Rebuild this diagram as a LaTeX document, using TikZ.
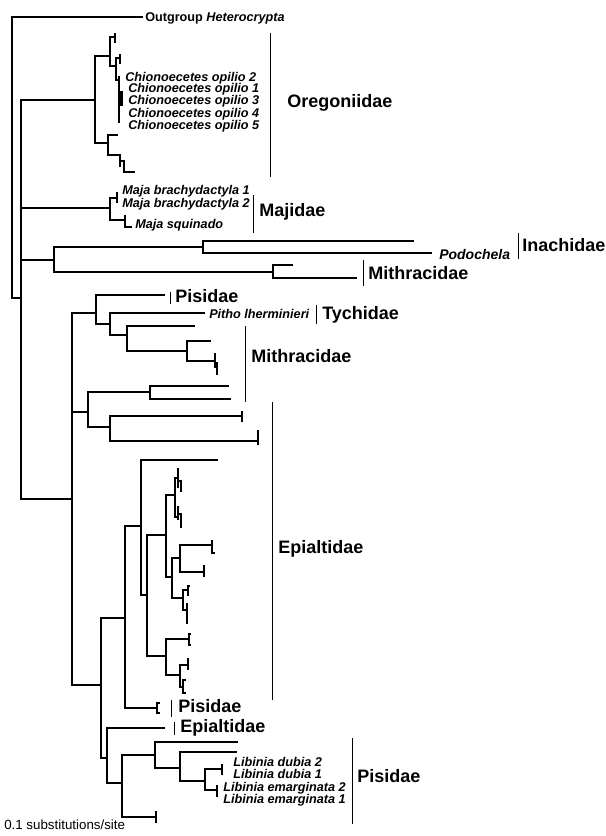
\documentclass[tikz,border=0pt]{standalone}
\usepackage{fontspec}
\setmainfont{Liberation Sans}
\begin{document}
\begin{tikzpicture}[x=0.75pt,y=-0.75pt,
  tree/.style={line width=2.1pt,line join=miter,line cap=butt},
  thick bar/.style={line width=3pt},
  brk/.style={line width=0.75pt},
  fam/.style={anchor=west,inner sep=0pt,text height=0.72em,text depth=0pt,font=\fontsize{13.5}{14}\selectfont\bfseries},
  sp/.style={anchor=west,inner sep=0pt,text height=0.72em,text depth=0pt,font=\fontsize{9.5}{10}\selectfont\bfseries\itshape},
  ]
\useasboundingbox (0,0) rectangle (606,836);
\fill[white] (0,0) rectangle (606,836);

% root
\draw[tree] (143,17) -- (12,17) -- (12,298) -- (21,298);
\node[sp] (outg) at (145,17) {\upshape Outgroup \itshape Heterocrypta};
\draw[tree] (21,99) -- (21,500);
\draw[tree] (21,100) -- (95,100);
\draw[tree] (21,208) -- (110,208);
\draw[tree] (21,260) -- (54,260);
\draw[tree] (21,499) -- (72,499);

% Oregoniidae
\draw[tree] (110,56) -- (95,56) -- (95,143) -- (108,143);
\draw[tree] (115,37) -- (110,37) -- (110,66) -- (116,66);
\draw[tree] (115,33) -- (115,43);
\draw[tree] (120,58) -- (116,58) -- (116,80) -- (119,80);
\draw[tree] (120,54) -- (120,64);
\draw[tree] (119,76) -- (119,123);
\draw[thick bar] (121,91) -- (121,106);
\draw[tree] (118,135) -- (108,135) -- (108,155) -- (120,155) -- (120,167);
\draw[tree] (120,161) -- (124,161) -- (124,172) -- (135,172);
\node[sp] (co2) at (125,77) {Chionoecetes opilio 2};
\node[sp] (co1) at (128,88) {Chionoecetes opilio 1};
\node[sp] (co3) at (128,100) {Chionoecetes opilio 3};
\node[sp] (co4) at (128,113) {Chionoecetes opilio 4};
\node[sp] (co5) at (128,125) {Chionoecetes opilio 5};
\draw[brk] (270,33) -- (270,177);
\node[fam] (oreg) at (287,103) {Oregoniidae};

% Majidae
\draw[tree] (117,198) -- (110,198) -- (110,220) -- (125,220);
\draw[tree] (117,192) -- (117,203);
\draw[tree] (125,215) -- (125,227) -- (132,227);
\node[sp] (mb1) at (122,190) {Maja brachydactyla 1};
\node[sp] (mb2) at (122,203) {Maja brachydactyla 2};
\node[sp] (msq) at (135,224) {Maja squinado};
\draw[brk] (253,195) -- (253,233);
\node[fam] (maj) at (259,212) {Majidae};

% Inachidae / Mithracidae
\draw[tree] (203,247) -- (54,247) -- (54,272) -- (273,272);
\draw[tree] (414,241) -- (203,241) -- (203,253) -- (432,253);
\node[sp,font=\fontsize{10.5}{11}\selectfont\bfseries\itshape] (podo) at (439,255) {Podochela};
\draw[brk] (518,233) -- (518,259);
\node[fam] (inach) at (522,247) {Inachidae};
\draw[tree] (293,265) -- (273,265) -- (273,278) -- (357,278);
\draw[brk] (363,260) -- (363,286);
\node[fam] (mith1) at (368,275) {Mithracidae};

% big clade
\draw[tree] (72,312) -- (72,686);
\draw[tree] (72,313) -- (96,313);
\draw[tree] (165,295) -- (96,295) -- (96,324) -- (110,324);
\draw[brk] (170,292) -- (170,304);
\node[fam] (pis1) at (175,298) {Pisidae};
\draw[tree] (205,313) -- (110,313) -- (110,335) -- (127,335);
\node[sp] (pitho) at (209,314) {Pitho lherminieri};
\draw[brk] (316,305) -- (316,324);
\node[fam] (tych) at (322,315) {Tychidae};
\draw[tree] (195,326) -- (127,326) -- (127,351) -- (187,351);
\draw[tree] (211,341) -- (187,341) -- (187,361) -- (215,361);
\draw[tree] (215,353) -- (215,368);
\draw[tree] (217,362) -- (217,375);
\draw[brk] (245,326) -- (245,402);
\node[fam] (mith2) at (251,358) {Mithracidae};

\draw[tree] (72,412) -- (88,412);
\draw[tree] (150,392) -- (88,392) -- (88,427) -- (110,427);
\draw[tree] (229,386) -- (150,386) -- (150,399) -- (231,399);
\draw[tree] (242,416) -- (110,416) -- (110,441) -- (258,441);
\draw[tree] (242,411) -- (242,422);
\draw[tree] (258,430) -- (258,445);
\draw[brk] (272,402) -- (272,700);
\node[fam] (epi1) at (278,549) {Epialtidae};

% lower clade
\draw[tree] (72,685) -- (101,685);
\draw[tree] (125,618) -- (101,618) -- (101,758) -- (107,758);
\draw[tree] (141,526) -- (125,526) -- (125,708) -- (157,708);
\draw[tree] (160,703) -- (157,703) -- (157,713) -- (160,713);
\draw[brk] (171,700) -- (171,717);
\node[fam] (pis2) at (178,708) {Pisidae};
\draw[tree] (218,460) -- (141,460) -- (141,595) -- (147,595);
\draw[tree] (166,535) -- (147,535) -- (147,656) -- (166,656);
\draw[tree] (175,495) -- (166,495) -- (166,577) -- (172,577);
\draw[tree] (178,478) -- (175,478) -- (175,517) -- (178,517);
\draw[tree] (178,468) -- (178,488);
\draw[tree] (178,481) -- (181,481) -- (181,492);
\draw[tree] (178,506) -- (178,520);
\draw[tree] (178,514) -- (181,514) -- (181,528);
\draw[tree] (180,558) -- (172,558) -- (172,598) -- (183,598);
\draw[tree] (212,545) -- (180,545) -- (180,572) -- (204,572);
\draw[tree] (212,540) -- (212,553) -- (215,553);
\draw[tree] (204,565) -- (204,577);
\draw[tree] (188,590) -- (183,590) -- (183,610) -- (187,610);
\draw[tree] (187,603) -- (187,624);
\draw[tree] (190,586) -- (188,586) -- (188,596);
\draw[tree] (189,639) -- (166,639) -- (166,675) -- (180,675);
\draw[tree] (191,634) -- (189,634) -- (189,645) -- (191,645);
\draw[tree] (188,665) -- (180,665) -- (180,687) -- (183,687);
\draw[tree] (188,658) -- (188,670);
\draw[tree] (186,680) -- (183,680) -- (183,693) -- (186,693);

\draw[tree] (165,728) -- (107,728) -- (107,783) -- (122,783);
\draw[brk] (174,722) -- (174,735);
\node[fam] (epi2) at (180,728) {Epialtidae};
\draw[tree] (155,755) -- (122,755) -- (122,817) -- (156,817);
\draw[tree] (156,811) -- (156,823);
\draw[tree] (238,742) -- (155,742) -- (155,768) -- (180,768);
\draw[tree] (237,752) -- (180,752) -- (180,781) -- (205,781);
\draw[tree] (222,769) -- (205,769) -- (205,790) -- (217,790);
\draw[tree] (222,764) -- (222,775);
\draw[tree] (217,785) -- (217,797);
\node[sp] (ld2) at (233,762) {Libinia dubia 2};
\node[sp] (ld1) at (233,774) {Libinia dubia 1};
\node[sp] (le2) at (223,787) {Libinia emarginata 2};
\node[sp] (le1) at (223,799) {Libinia emarginata 1};
\draw[brk] (352,738) -- (352,824);
\node[fam] (pis3) at (357,778) {Pisidae};

\node[anchor=west,inner sep=0pt,text height=0.72em,text depth=0pt,font=\fontsize{10}{11}\selectfont] (scale) at (4,825) {0.1 substitutions/site};
\end{tikzpicture}
\end{document}
